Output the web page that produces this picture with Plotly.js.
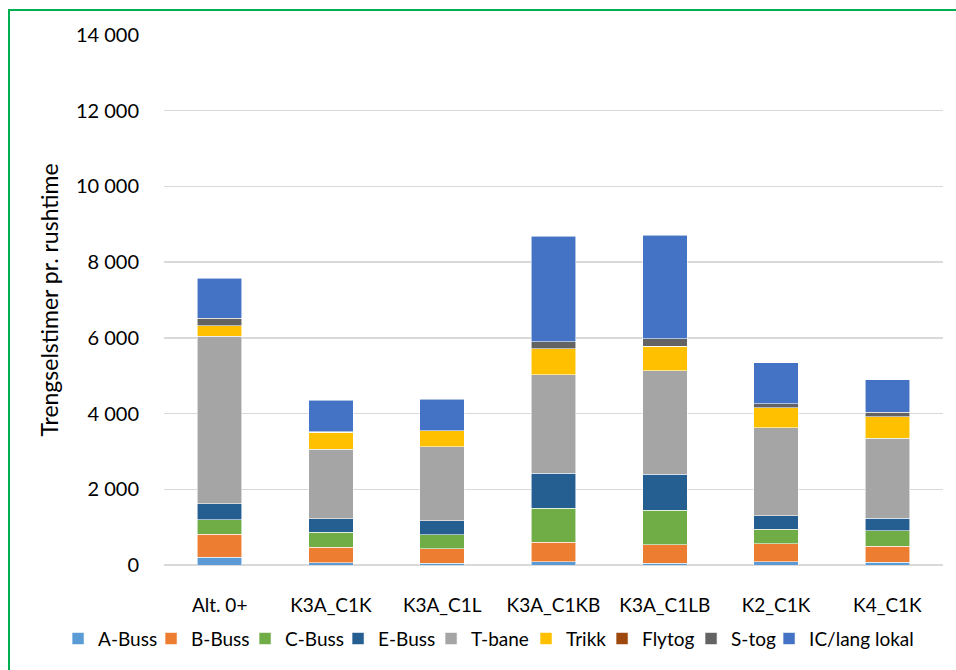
<!DOCTYPE html>
<html>
<head>
<meta charset="utf-8">
<script src="https://cdn.plot.ly/plotly-3.0.1.min.js"></script>
<style>
  html, body { margin: 0; padding: 0; background: #fff; }
  #wrap { position: relative; width: 956px; height: 670px; overflow: hidden; }
  #chart { position: absolute; left: 0; top: 0; width: 956px; height: 670px; }
  #frame { position: absolute; left: 8px; top: 9px; width: 1000px; height: 800px;
           border-left: 2px solid #00b050; border-top: 2px solid #00b050; pointer-events: none; }
</style>
</head>
<body>
<div id="wrap">
  <div id="chart"></div>
  <div id="frame"></div>
</div>
<script>
const categories = ["Alt. 0+", "K3A_C1K", "K3A_C1L", "K3A_C1KB", "K3A_C1LB", "K2_C1K", "K4_C1K"];

const aBuss  = [200,   60,   40,   80,   50,   90,   70];
const bBuss  = [615,  410,  390,  520,  490,  470,  430];
const cBuss  = [380,  390,  370,  900,  900,  390,  400];
const eBuss  = [420,  360,  370,  920,  960,  350,  330];
const tBane  = [4430, 1840, 1960, 2610, 2730, 2330, 2120];
const trikk  = [280,  450,  410,  680,  650,  530,  570];
const flytog = [0,    0,    0,    0,    0,    0,    0];
const sTog   = [190,  10,   10,   190,  190,  100,  120];
const icLang = [1055, 830,  830,  2780, 2740, 1080, 860];

const seriesNames  = ["A-Buss", "B-Buss", "C-Buss", "E-Buss", "T-bane", "Trikk", "Flytog", "S-tog", "IC/lang lokal"];
const seriesValues = [aBuss, bBuss, cBuss, eBuss, tBane, trikk, flytog, sTog, icLang];
const seriesColors = ["#5b9bd5", "#ed7d31", "#70ad47", "#255e91", "#a5a5a5", "#ffc000", "#9e480e", "#636363", "#4472c4"];
// legend entry widths (px) so entries sit like the reference legend
const legendWidths = [48, 49, 48, 48, 50, 31, 44, 33, 125];

const yTicks = [0, 2000, 4000, 6000, 8000, 10000, 12000, 14000];

const FONT = "Lato, 'Open Sans', sans-serif";

const traces = seriesNames.map((name, i) => ({
  type: "bar",
  name: name,
  x: categories,
  y: seriesValues[i],
  legendwidth: legendWidths[i],
  marker: { color: seriesColors[i], line: { color: "rgba(255,255,255,0.7)", width: 0.8 } },
  hoverinfo: "x+y+name"
}));

const layout = {
  width: 956,
  height: 670,
  barmode: "stack",
  bargap: 0.6,
  separators: ", ",
  paper_bgcolor: "#ffffff",
  plot_bgcolor: "#ffffff",
  margin: { l: 164, r: 13, t: 35, b: 103, pad: 0 },
  font: { family: FONT, size: 19, color: "#000000" },
  showlegend: true,
  legend: {
    orientation: "h",
    x: -0.136, xanchor: "left",
    y: -0.139, yanchor: "middle",
    font: { family: FONT, size: 19, color: "#000000" },
    traceorder: "normal",
    itemwidth: 30,
    tracegroupgap: 0,
    borderwidth: 0
  },
  xaxis: {
    type: "category",
    tickfont: { family: FONT, size: 19, color: "#000000" },
    showgrid: false,
    showline: false,
    ticks: "",
    ticklabelstandoff: 27,
    automargin: false,
    fixedrange: true
  },
  yaxis: {
    range: [0, 14000],
    tickmode: "array",
    tickvals: yTicks,
    tickformat: ",d",
    tickfont: { family: FONT, size: 20, color: "#000000" },
    showgrid: true,
    gridcolor: "#d9d9d9",
    gridwidth: 1.5,
    zeroline: true,
    zerolinecolor: "#d9d9d9",
    zerolinewidth: 1.5,
    showline: false,
    ticks: "",
    ticklabelstandoff: 24,
    automargin: false,
    title: { text: "Trengselstimer pr. rushtime", font: { family: FONT, size: 23, color: "#000000" }, standoff: 10 },
    fixedrange: true
  }
};

Plotly.newPlot("chart", traces, layout, { displayModeBar: false, staticPlot: true });
</script>
</body>
</html>
